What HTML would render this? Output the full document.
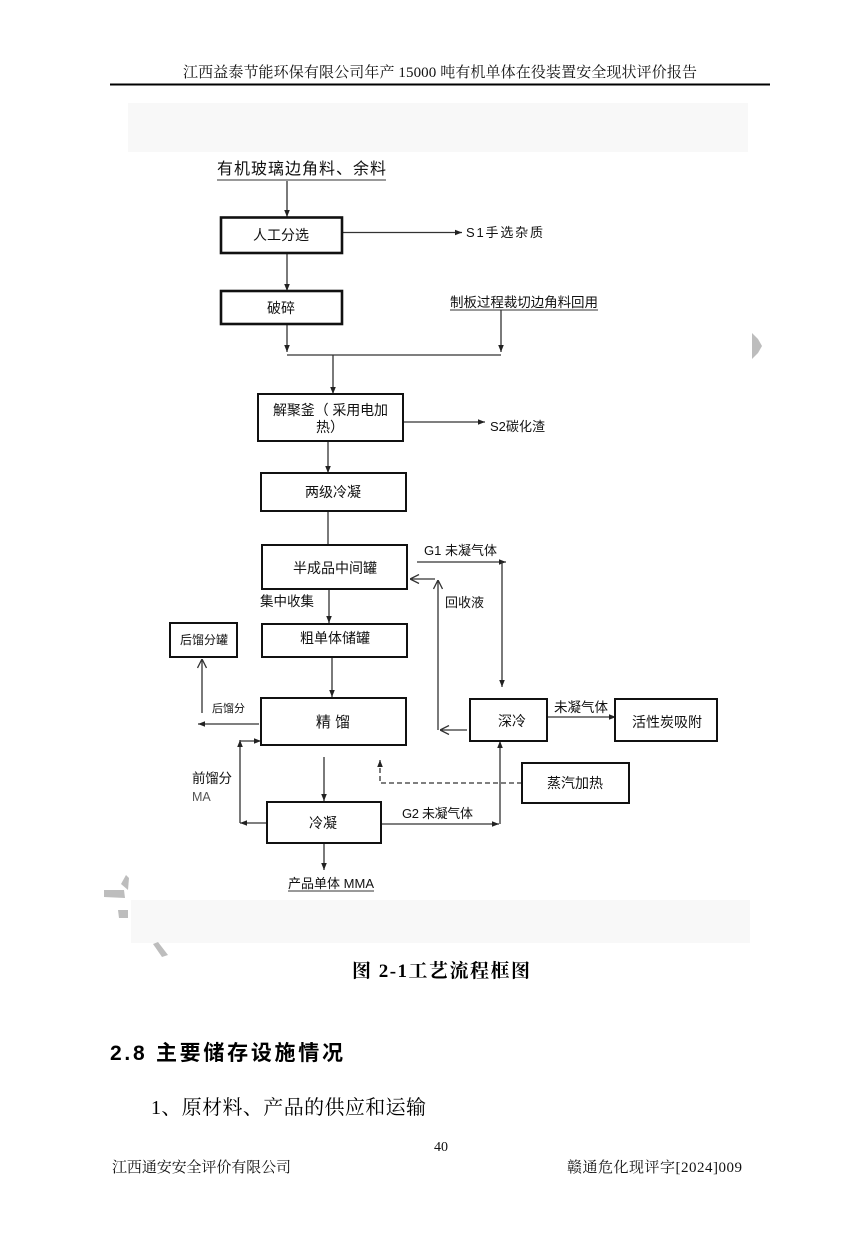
<!DOCTYPE html>
<html><head><meta charset="utf-8"><style>
html,body{margin:0;padding:0;background:#fff;}
svg{display:block;}
.sf{font-family:"Liberation Serif","Noto Serif CJK SC",serif;}
.ss{font-family:"Liberation Sans","Noto Sans CJK SC",sans-serif;}
</style></head><body>
<svg width="860" height="1240" viewBox="0 0 860 1240" xmlns="http://www.w3.org/2000/svg">
<defs>
<marker id="a" viewBox="0 0 10 10" refX="10" refY="5" markerWidth="7" markerHeight="7" markerUnits="userSpaceOnUse" orient="auto"><path d="M0,1 L10,5 L0,9 z" fill="#222"/></marker>
<marker id="o" viewBox="0 0 10 10" refX="10" refY="5" markerWidth="10" markerHeight="10" markerUnits="userSpaceOnUse" orient="auto"><path d="M1,0.5 L10,5 L1,9.5" fill="none" stroke="#333" stroke-width="1.3"/></marker>
</defs>

<!-- header -->
<text class="sf" x="183" y="77" font-size="15" textLength="514" lengthAdjust="spacing" fill="#111">江西益泰节能环保有限公司年产 15000 吨有机单体在役装置安全现状评价报告</text>
<line x1="110" y1="84.5" x2="770" y2="84.5" stroke="#000" stroke-width="2"/>

<!-- gray bands -->
<rect x="128" y="103" width="620" height="49" fill="#f8f8f8"/>
<rect x="131" y="900" width="619" height="43" fill="#f8f8f8"/>

<!-- edge marks -->
<path d="M752,333 L758,339 L762,346 L758,353 L752,359 Z" fill="#bdbdbd"/>
<path d="M121,884 L126,875 L129,878 L128,890 Z" fill="#bdbdbd"/>
<path d="M104,890 L124,890 L125,898 L104,897 Z" fill="#bdbdbd"/>
<path d="M118,910 L128,910 L128,918 L119,918 Z" fill="#bdbdbd"/>
<path d="M153,944 L158,942 L168,955 L162,957 Z" fill="#bdbdbd"/>

<g class="ss" fill="#111" stroke="none">
<!-- source -->
<text x="217" y="174" font-size="16" textLength="169" lengthAdjust="spacing">有机玻璃边角料、余料</text>
</g>
<line x1="217" y1="180" x2="386" y2="180" stroke="#333" stroke-width="1"/>

<g fill="none" stroke="#333" stroke-width="1.3">
<line x1="287" y1="181" x2="287" y2="217" marker-end="url(#a)"/>
<line x1="342" y1="232.5" x2="462" y2="232.5" marker-end="url(#a)"/>
<line x1="287" y1="253" x2="287" y2="291" marker-end="url(#a)"/>
<line x1="287" y1="324" x2="287" y2="352" marker-end="url(#a)"/>
<line x1="501" y1="310" x2="501" y2="352" marker-end="url(#a)"/>
<line x1="287" y1="355" x2="501" y2="355"/>
<line x1="333" y1="355" x2="333" y2="394" marker-end="url(#a)"/>
<line x1="403" y1="422" x2="485" y2="422" marker-end="url(#a)"/>
<line x1="328" y1="441" x2="328" y2="473" marker-end="url(#a)"/>
<line x1="328" y1="511" x2="328" y2="545"/>
<line x1="417" y1="562" x2="506" y2="562" marker-end="url(#a)"/>
<line x1="502" y1="562" x2="502" y2="687" marker-end="url(#a)"/>
<line x1="435" y1="579" x2="410" y2="579" marker-end="url(#o)"/>
<line x1="438" y1="730" x2="438" y2="580" marker-end="url(#o)"/>
<line x1="467" y1="730" x2="440" y2="730" marker-end="url(#o)"/>
<line x1="329" y1="589" x2="329" y2="623" marker-end="url(#a)"/>
<line x1="332" y1="657" x2="332" y2="697" marker-end="url(#a)"/>
<line x1="202" y1="713" x2="202" y2="659" marker-end="url(#o)"/>
<line x1="259" y1="724" x2="198" y2="724" marker-end="url(#a)"/>
<line x1="547" y1="717" x2="616" y2="717" marker-end="url(#a)"/>
<line x1="240" y1="823" x2="240" y2="740" marker-end="url(#a)"/>
<line x1="240" y1="741" x2="261" y2="741" marker-end="url(#a)"/>
<line x1="267" y1="823" x2="240" y2="823" marker-end="url(#a)"/>
<line x1="324" y1="757" x2="324" y2="801" marker-end="url(#a)"/>
<line x1="381" y1="824" x2="499" y2="824" marker-end="url(#a)"/>
<line x1="500" y1="824" x2="500" y2="741" marker-end="url(#a)"/>
<line x1="324" y1="843" x2="324" y2="870" marker-end="url(#a)"/>
<path d="M522,783 L380,783 L380,760" stroke-dasharray="5,3" marker-end="url(#a)"/>
</g>
<line x1="450" y1="310" x2="598" y2="310" stroke="#333" stroke-width="1"/>
<line x1="288" y1="891" x2="374" y2="891" stroke="#333" stroke-width="1"/>

<!-- boxes -->
<g fill="#fff" stroke="#111">
<rect x="221" y="217.5" width="121" height="35.5" stroke-width="2.6"/>
<rect x="221" y="291" width="121" height="33" stroke-width="2.6"/>
<rect x="258" y="394" width="145" height="47" stroke-width="2"/>
<rect x="261" y="473" width="145" height="38" stroke-width="2"/>
<rect x="262" y="545" width="145" height="44" stroke-width="2"/>
<rect x="262" y="624" width="145" height="33" stroke-width="2"/>
<rect x="170" y="623" width="67" height="34" stroke-width="2"/>
<rect x="261" y="698" width="145" height="47" stroke-width="2"/>
<rect x="470" y="699" width="77" height="42" stroke-width="2"/>
<rect x="615" y="699" width="102" height="42" stroke-width="2"/>
<rect x="522" y="763" width="107" height="40" stroke-width="2"/>
<rect x="267" y="802" width="114" height="41" stroke-width="2"/>
</g>

<g class="ss" fill="#111">
<text x="281" y="240" font-size="14" text-anchor="middle">人工分选</text>
<text x="466" y="237" font-size="13" textLength="77" lengthAdjust="spacing">S1手选杂质</text>
<text x="281" y="313" font-size="14" text-anchor="middle">破碎</text>
<text x="450" y="307" font-size="13.5" textLength="148" lengthAdjust="spacing">制板过程裁切边角料回用</text>
<text x="273" y="415" font-size="14" textLength="115" lengthAdjust="spacing">解聚釜（ 采用电加</text>
<text x="316" y="432" font-size="14">热）</text>
<text x="490" y="431" font-size="13" textLength="55" lengthAdjust="spacing">S2碳化渣</text>
<text x="333" y="497" font-size="14" text-anchor="middle">两级冷凝</text>
<text x="335" y="573" font-size="14" text-anchor="middle">半成品中间罐</text>
<text x="424" y="555" font-size="13" textLength="73" lengthAdjust="spacing">G1 未凝气体</text>
<text x="445" y="607" font-size="13">回收液</text>
<text x="260" y="606" font-size="13.5" textLength="54" lengthAdjust="spacing">集中收集</text>
<text x="335" y="643" font-size="14" text-anchor="middle">粗单体储罐</text>
<text x="204" y="644" font-size="12" text-anchor="middle">后馏分罐</text>
<text x="212" y="712" font-size="11" textLength="33" lengthAdjust="spacing">后馏分</text>
<text x="333" y="727" font-size="15" text-anchor="middle">精 馏</text>
<text x="512" y="726" font-size="14" text-anchor="middle">深冷</text>
<text x="554" y="712" font-size="13.5" textLength="54" lengthAdjust="spacing">未凝气体</text>
<text x="667" y="727" font-size="14" text-anchor="middle">活性炭吸附</text>
<text x="192" y="783" font-size="13.5" textLength="40" lengthAdjust="spacing">前馏分</text>
<text x="192" y="801" font-size="12.5" fill="#555">MA</text>
<text x="575" y="788" font-size="14" text-anchor="middle">蒸汽加热</text>
<text x="323" y="828" font-size="14" text-anchor="middle">冷凝</text>
<text x="402" y="818" font-size="13" textLength="71" lengthAdjust="spacing">G2 未凝气体</text>
<text x="288" y="888" font-size="13" textLength="86" lengthAdjust="spacing">产品单体 MMA</text>
</g>

<!-- caption & body -->
<text class="sf" x="352" y="977" font-size="19" font-weight="bold" textLength="178" lengthAdjust="spacing" fill="#000">图 2-1工艺流程框图</text>
<text class="ss" x="110" y="1060" font-size="21" font-weight="bold" textLength="233" lengthAdjust="spacing" fill="#000">2.8 主要储存设施情况</text>
<text class="sf" x="151" y="1114" font-size="20" textLength="275" lengthAdjust="spacing" fill="#000">1、原材料、产品的供应和运输</text>
<text class="sf" x="434" y="1151" font-size="14" fill="#111">40</text>
<text class="sf" x="112" y="1172" font-size="15" textLength="179" lengthAdjust="spacing" fill="#111">江西通安安全评价有限公司</text>
<text class="sf" x="567" y="1172" font-size="15" textLength="175" lengthAdjust="spacing" fill="#111">赣通危化现评字[2024]009</text>
</svg>
</body></html>
